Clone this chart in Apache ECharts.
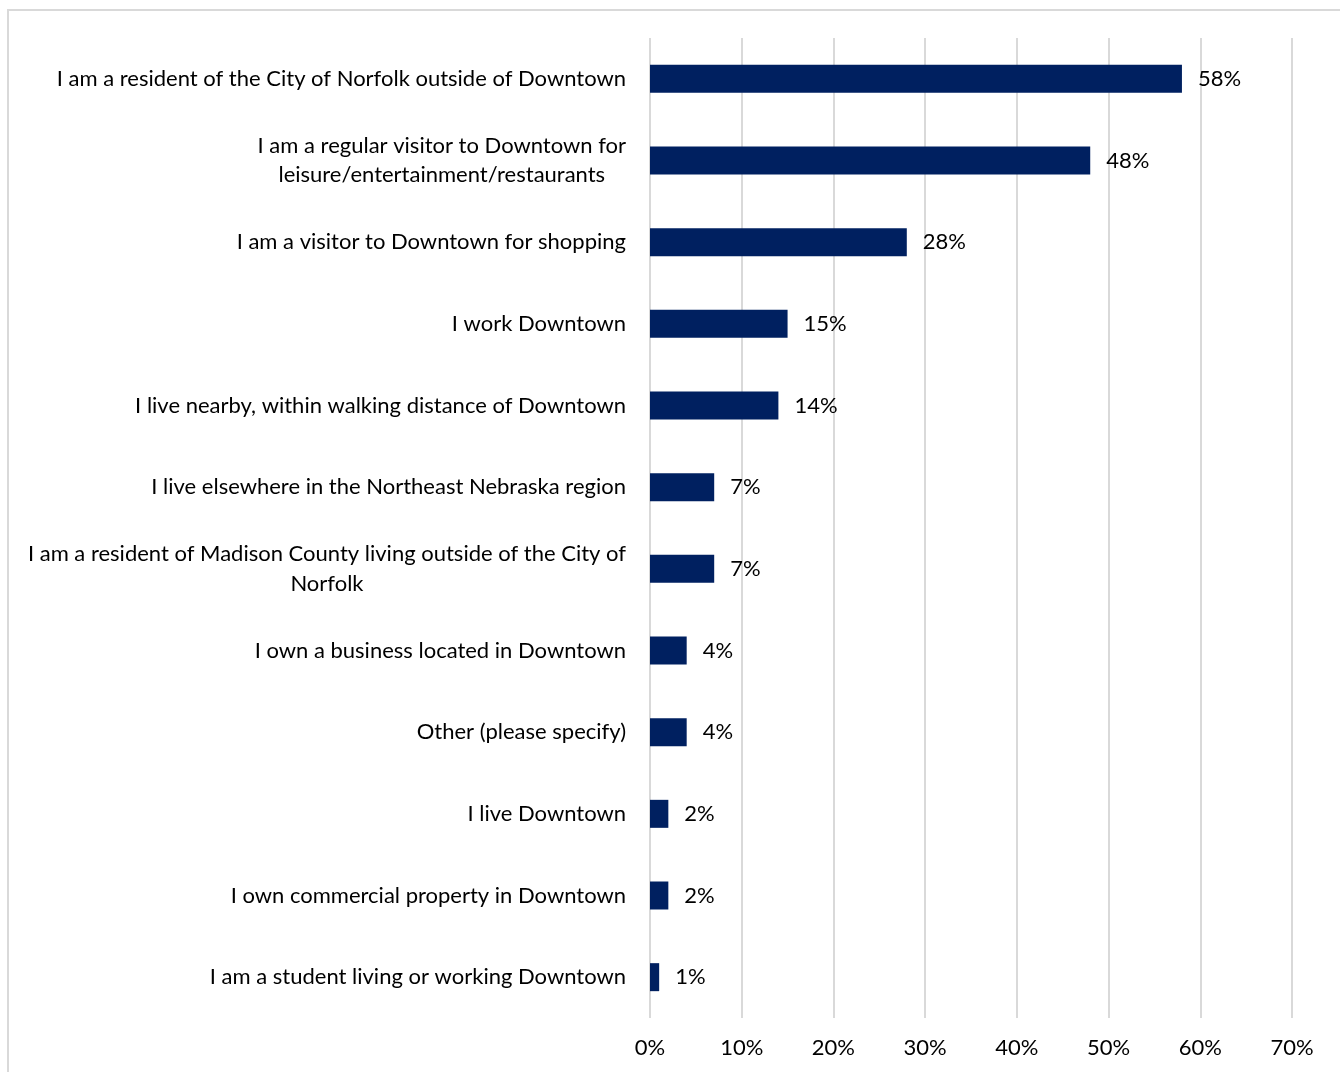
<!DOCTYPE html>
<html>
<head>
<meta charset="utf-8">
<script src="https://cdn.jsdelivr.net/npm/echarts@6/dist/echarts.min.js"></script>
<style>
  html, body { margin: 0; padding: 0; background: #ffffff; }
  #chart { width: 1340px; height: 1072px; }
</style>
</head>
<body>
<div id="chart"></div>
<script>
// Survey: respondents' relationship to Downtown Norfolk (share of respondents, %)
const categories = [
  'I am a resident of the City of Norfolk outside of Downtown',
  'I am a regular visitor to Downtown for\nleisure/entertainment/restaurants',
  'I am a visitor to Downtown for shopping',
  'I work Downtown',
  'I live nearby, within walking distance of Downtown',
  'I live elsewhere in the Northeast Nebraska region',
  'I am a resident of Madison County living outside of the City of\nNorfolk',
  'I own a business located in Downtown',
  'Other (please specify)',
  'I live Downtown',
  'I own commercial property in Downtown',
  'I am a student living or working Downtown'
];
const shares = [58, 48, 28, 15, 14, 7, 7, 4, 4, 2, 2, 1];
const axisTicks = [0, 10, 20, 30, 40, 50, 60, 70];

const FONT = 'Lato, "Open Sans", sans-serif';
const FONT_SIZE = 22;
const LINE_HEIGHT = 29.5;
const BAR_COLOR = '#002060';

const chart = echarts.init(document.getElementById('chart'), null, { renderer: 'canvas' });

chart.setOption({
  backgroundColor: '#ffffff',
  animation: false,
  graphic: [{
    type: 'rect',
    shape: { x: 8, y: 10, width: 1400, height: 1100 },
    style: { fill: 'none', stroke: '#d9d9d9', lineWidth: 2 },
    silent: true
  }],
  grid: { left: 650, right: 48, top: 38, bottom: 54, containLabel: false },
  xAxis: {
    type: 'value',
    min: axisTicks[0],
    max: axisTicks[axisTicks.length - 1],
    interval: axisTicks[1] - axisTicks[0],
    axisLine: { show: false },
    axisTick: { show: false },
    splitLine: { show: true, lineStyle: { color: '#d9d9d9', width: 2 } },
    axisLabel: {
      formatter: '{value}%',
      margin: 19,
      color: '#000000',
      fontFamily: FONT,
      fontSize: FONT_SIZE
    }
  },
  yAxis: {
    type: 'category',
    data: categories,
    inverse: true,
    axisLine: { show: false },
    axisTick: { show: false },
    splitLine: { show: false },
    axisLabel: {
      margin: 24,
      color: '#000000',
      fontFamily: FONT,
      fontSize: FONT_SIZE,
      lineHeight: LINE_HEIGHT,
      formatter: function (v) {
        return v.split('\n').map(function (line) { return '{c|' + line + '}'; }).join('\n');
      },
      rich: {
        c: { align: 'center', color: '#000000', fontFamily: FONT, fontSize: FONT_SIZE, lineHeight: LINE_HEIGHT }
      }
    }
  },
  series: [{
    type: 'bar',
    data: shares,
    barWidth: 28,
    itemStyle: { color: BAR_COLOR },
    label: {
      show: true,
      position: 'right',
      distance: 16,
      color: '#000000',
      fontFamily: FONT,
      fontSize: FONT_SIZE,
      formatter: function (p) { return p.value + '%'; }
    }
  }]
});
</script>
</body>
</html>
